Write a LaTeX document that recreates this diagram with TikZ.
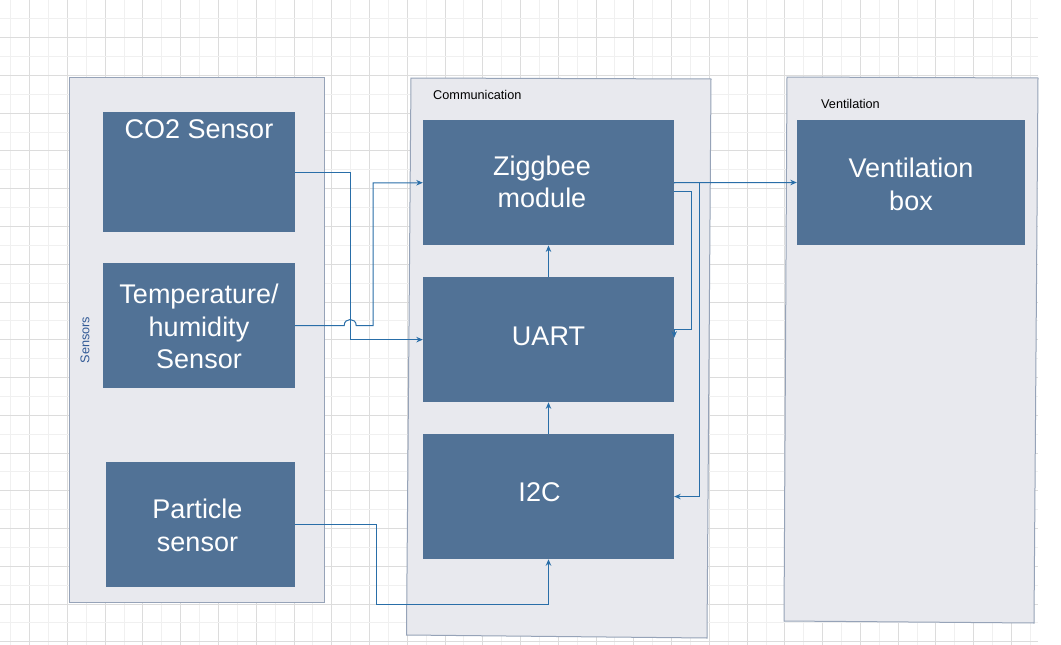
\documentclass[tikz,border=0pt]{standalone}
\usepackage{fontspec}
\setmainfont{Liberation Sans}
\usetikzlibrary{positioning,arrows.meta}
\definecolor{blkfill}{RGB}{81,114,150}
\definecolor{panelfill}{RGB}{232,233,238}
\definecolor{paneldraw}{RGB}{150,163,184}
\definecolor{connc}{RGB}{41,110,168}
\definecolor{gridmaj}{RGB}{220,220,220}
\definecolor{gridmin}{RGB}{240,240,240}
\definecolor{sensc}{RGB}{50,90,150}
\newcommand\blkfont{\fontsize{27}{32.5}\selectfont}
\newcommand\lblfont{\fontsize{12.7}{15}\selectfont}

\begin{document}
\begin{tikzpicture}[x=1pt, y=-1pt,
    panel/.style={fill=panelfill, draw=paneldraw, line width=1pt},
    blk/.style={fill=blkfill, inner sep=0pt, minimum height=125pt},
    blktext/.style={text=white, font=\blkfont, align=center, inner sep=0pt},
    lbl/.style={font=\lblfont, inner sep=0pt},
    conn/.style={draw=connc, line width=1pt, -{Stealth[length=6.5pt,width=5.5pt]}}]
    \useasboundingbox (0,0) rectangle (1061,645);
    \fill[white] (0,0) rectangle (1061,645);
    \foreach \i in {0,...,54} {
        \pgfmathsetmacro\gx{10.5+18.88*\i}
        \ifodd\i \draw[gridmaj] (\gx,0) -- (\gx,645); \else \draw[gridmin] (\gx,0) -- (\gx,645); \fi
    }
    \foreach \i in {0,...,33} {
        \pgfmathsetmacro\gy{18.5+18.88*\i}
        \ifodd\i \draw[gridmaj] (0,\gy) -- (1038,\gy); \else \draw[gridmin] (0,\gy) -- (1038,\gy); \fi
    }
    \filldraw[panel] (69,77) rectangle (324,602);
    \filldraw[panel] (411,78) -- (711,79) -- (707,638) -- (406.5,635) -- cycle;
    \filldraw[panel] (787,77) -- (1038,78) -- (1034,623) -- (784,621) -- cycle;
    \node[lbl, anchor=west] (comm-lbl) at (433,95) {Communication};
    \node[lbl, anchor=west] (vent-lbl) at (821,104.3) {Ventilation};
    \node[lbl, text=sensc, rotate=90] (sens-lbl) at (85,340) {Sensors};

    \node[blk, minimum width=192pt, minimum height=120pt] (co2) at (199,172) {};
    \node[blk, minimum width=192pt] (temp) at (199,325.5) {};
    \node[blk, minimum width=189pt] (part) at (200.5,524.5) {};
    \node[blk, minimum width=251pt] (zig) at (548.5,182.75) {};
    \node[blk, minimum width=251pt, below=31.5pt of zig] (uart) {};
    \node[blk, minimum width=251pt, below=31.5pt of uart] (i2c) {};
    \node[blk, minimum width=228pt] (vent) at (911,182.5) {};

    \node[blktext, anchor=north] (co2-txt) at ([yshift=-7.5pt]co2.north) {CO2 Sensor};
    \node[blktext] (temp-txt) at ([yshift=-1pt]temp.center) {Temperature/\\humidity\\Sensor};
    \node[blktext] (part-txt) at ([shift={(-3pt,-1pt)}]part.center) {Particle\\sensor};
    \node[blktext] (zig-txt) at ([shift={(-6.5pt,1pt)}]zig.center) {Ziggbee\\module};
    \node[blktext] (uart-txt) at ([yshift=3pt]uart.center) {UART};
    \node[blktext] (i2c-txt) at ([shift={(-9pt,4pt)}]i2c.center) {I2C};
    \node[blktext] (vent-txt) at ([yshift=-2pt]vent.center) {Ventilation\\box};

    \draw[conn] (co2.east) -- ++(55.5,0) |- (uart.west);
    \draw[conn] (temp.east) -- ++(49,0) .. controls +(0,-8) and +(0,-8) .. ++(12,0) -- ++(17,0) |- (zig.west);
    \draw[conn] (part.east) -- ++(81,0) -- ++(0,80) -| (i2c.south);
    \draw[conn] (i2c.north) -- (uart.south);
    \draw[conn] (uart.north) -- (zig.south);
    \draw[conn] (zig.east) -- (vent.west);
    \draw[conn] (zig.east) -- ++(25.5,0) |- (i2c.east);
    \draw[conn] ([yshift=-9pt]zig.east) -- ++(17,0) |- ([yshift=10pt]uart.east) -- ++(0,8);
\end{tikzpicture}
\end{document}
